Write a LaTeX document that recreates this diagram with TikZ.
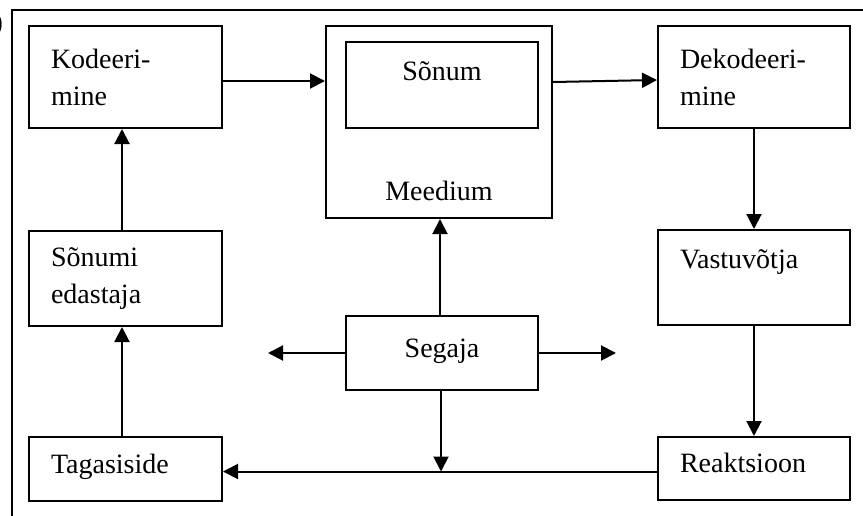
\documentclass[tikz,border=0pt]{standalone}
\usepackage{fontspec}
\setmainfont{Liberation Serif}
\usetikzlibrary{arrows.meta}

\begin{document}
\begin{tikzpicture}[x=0.5pt, y=-0.5pt, line width=1pt,
        font=\fontsize{14}{18.5}\selectfont,
        kast/.style={draw, rectangle, minimum width=96.5pt, inner xsep=11pt, text width=74.5pt, align=left},
        keskkast/.style={draw, rectangle, minimum width=96pt, align=center},
        nool/.style={-{Triangle[length=7.5pt,width=7.5pt]}}]

        \useasboundingbox (0,0) rectangle (863,515);

        % raam
        \draw (900,10) -- (12,10) -- (12,560);
        \node[anchor=east, inner sep=0pt] (sulg) at (4,25) {)};

        \node[kast, minimum height=51pt] (kod) at (125.5,77) {Kodeeri-\\mine};
        \node[kast, minimum height=47.5pt] (edastaja) at (125.5,278.5) {Sõnumi\\edastaja};
        \node[kast, minimum height=32pt, text height=10pt, text depth=6pt] (tag) at (125.5,469) {Tagasiside};
        \node[kast, minimum height=51pt, minimum width=96pt, text width=74pt] (dek) at (754,77) {Dekodeeri-\\mine};
        \node[kast, minimum height=47.5pt, minimum width=96pt, text width=74pt] (vas) at (754,277.5) {Vastuvõtja\\~};
        \node[kast, minimum height=31.5pt, minimum width=96pt, text width=74pt, text height=10pt, text depth=6pt] (rea) at (754,468.5) {Reaktsioon};

        \node[keskkast, minimum width=113pt, minimum height=96pt, text height=78pt, text depth=0pt] (med) at (439,122) {Meedium};
        \node[keskkast, minimum height=43pt, text height=10pt, text depth=15pt] (son) at (442,85) {Sõnum};
        \node[keskkast, minimum height=37pt, text height=10pt, text depth=6pt] (seg) at (442,353) {Segaja};

        \coordinate (segvasak) at (268,353);
        \coordinate (segparem) at (616,353);

        \draw[nool] ([yshift=-2pt]kod.east) -- ([yshift=-2pt]kod.east -| med.west);
        \draw[nool] ([yshift=-2.5pt]dek.west -| med.east) -- ([yshift=-1.5pt]dek.west);
        \draw[nool] (dek.south) -- (vas.north);
        \draw[nool] (vas.south) -- (rea.north);
        \draw[nool] ([yshift=-1.5pt]rea.west) -- ([yshift=-1.5pt]rea.west -| tag.east);
        \draw[nool] ([xshift=-1.75pt]tag.north) -- ([xshift=-1.75pt]edastaja.south);
        \draw[nool] ([xshift=-1.75pt]edastaja.north) -- ([xshift=-1.75pt]kod.south);
        \draw[nool] ([xshift=-1pt]seg.north) -- ([xshift=-1pt]seg.north |- med.south);
        \draw[nool] ([xshift=-0.5pt]seg.south) -- ([xshift=-0.5pt,yshift=-1.5pt]seg.south |- rea.west);
        \draw[nool] (seg.west) -- (segvasak);
        \draw[nool] (seg.east) -- (segparem);

\end{tikzpicture}
\end{document}
